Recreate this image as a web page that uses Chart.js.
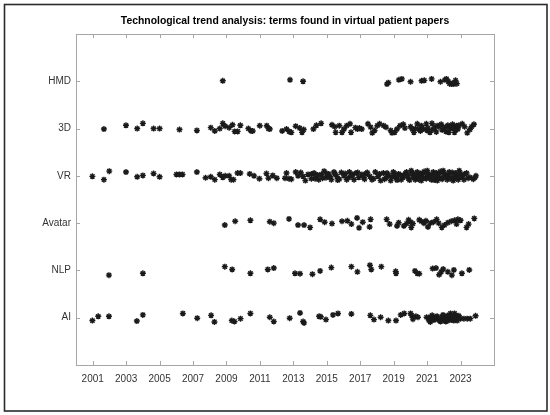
<!DOCTYPE html>
<html>
<head>
<meta charset="utf-8">
<script src="https://cdn.jsdelivr.net/npm/chart.js@4/dist/chart.umd.min.js"></script>
<style>
  html, body { margin: 0; padding: 0; background: #fff; }
  #wrap { width: 550px; height: 415px; }
</style>
</head>
<body>
<div id="wrap"><canvas id="trend" width="550" height="415"></canvas></div>
<script>
// category order bottom -> top
const categories = ['AI', 'NLP', 'Avatar', 'VR', '3D', 'HMD'];
const tickYears = [2001, 2003, 2005, 2007, 2009, 2011, 2013, 2015, 2017, 2019, 2021, 2023];
const chartTitle = 'Technological trend analysis: terms found in virtual patient papers';

// [year, vertical jitter] per paper
const AI = [
  [2000.98, -0.06], [2001.33, 0.03], [2001.97, 0.03], [2003.64, -0.07], [2004.00, 0.06],
  [2006.39, 0.09], [2007.25, -0.01], [2008.08, 0.05], [2008.28, -0.09], [2009.32, -0.06],
  [2009.48, -0.08], [2009.84, -0.02], [2010.43, 0.09], [2011.59, 0.01], [2011.83, -0.08],
  [2012.78, -0.01], [2013.40, 0.10], [2013.58, -0.08], [2013.64, -0.11], [2014.54, 0.03],
  [2014.64, 0.02], [2014.95, -0.04], [2015.37, 0.06], [2015.67, 0.09], [2016.47, 0.08],
  [2017.60, 0.05], [2017.82, -0.04], [2018.22, 0.01], [2018.68, -0.06], [2019.14, -0.06],
  [2019.42, 0.06], [2019.63, 0.09], [2020.01, 0.09], [2020.07, 0.05], [2020.15, -0.03],
  [2020.33, 0.03], [2020.45, 0.01], [2020.97, 0.01], [2021.10, -0.05], [2021.19, -0.09],
  [2021.20, 0.02], [2021.29, -0.01], [2021.30, 0.05], [2021.41, -0.05], [2021.45, -0.02],
  [2021.53, 0.02], [2021.60, 0.03], [2021.69, -0.04], [2021.75, -0.06], [2021.80, -0.08],
  [2021.88, 0.02], [2021.95, 0.06], [2022.00, -0.02], [2022.05, -0.07], [2022.12, -0.08],
  [2022.15, 0.02], [2022.20, 0.04], [2022.25, -0.06], [2022.32, -0.01], [2022.35, 0.06],
  [2022.40, 0.09], [2022.45, -0.03], [2022.48, -0.05], [2022.56, 0.03], [2022.60, -0.06],
  [2022.64, 0.09], [2022.70, 0.05], [2022.72, -0.04], [2022.80, -0.06], [2022.84, 0.01],
  [2022.90, 0.04], [2023.00, -0.02], [2023.20, -0.02], [2023.40, -0.02], [2023.58, -0.02],
  [2023.90, 0.04]
];
const NLP = [
  [2001.97, -0.10], [2004.00, -0.06], [2008.90, 0.08], [2009.34, 0.02], [2010.43, -0.06],
  [2011.47, 0.02], [2011.83, 0.05], [2013.10, -0.06], [2013.40, -0.07], [2014.14, -0.08],
  [2014.60, -0.01], [2015.27, 0.06], [2016.47, 0.08], [2016.83, -0.03], [2017.58, 0.11],
  [2017.66, 0.02], [2018.26, 0.08], [2019.12, -0.02], [2019.14, -0.06], [2020.27, -0.01],
  [2020.41, -0.06], [2020.53, -0.07], [2021.33, 0.04], [2021.53, 0.05], [2021.72, -0.09],
  [2021.84, -0.03], [2021.96, 0.03], [2022.24, -0.03], [2022.48, -0.10], [2022.60, 0.01],
  [2023.08, -0.06], [2023.52, 0.01]
];
const Avatar = [
  [2008.90, -0.04], [2009.52, 0.04], [2010.43, 0.06], [2011.59, 0.03], [2011.83, 0.00],
  [2012.74, 0.09], [2013.28, -0.04], [2013.64, -0.04], [2014.00, -0.09], [2014.60, 0.08],
  [2014.87, 0.02], [2015.31, -0.01], [2015.91, 0.04], [2016.23, 0.05], [2016.47, -0.02],
  [2016.81, 0.11], [2016.93, -0.10], [2017.15, 0.02], [2017.56, -0.08], [2017.62, 0.08],
  [2018.58, 0.08], [2018.76, -0.02], [2019.20, -0.06], [2019.30, 0.01], [2019.61, -0.06],
  [2019.77, -0.01], [2019.89, 0.07], [2020.01, 0.02], [2020.05, -0.09], [2020.15, -0.01],
  [2020.53, 0.07], [2020.65, 0.04], [2020.81, 0.00], [2020.93, 0.05], [2021.05, -0.08],
  [2021.19, 0.00], [2021.37, 0.02], [2021.57, 0.08], [2021.69, 0.00], [2021.88, -0.09],
  [2022.04, -0.04], [2022.24, 0.01], [2022.44, 0.04], [2022.64, 0.06], [2022.76, -0.02],
  [2022.84, 0.08], [2023.00, 0.06], [2023.36, -0.09], [2023.48, -0.02], [2023.82, 0.10]
];
const VR = [
  [2000.98, -0.01], [2001.67, -0.08], [2001.99, 0.10], [2002.99, 0.08], [2003.66, -0.02],
  [2004.00, 0.01], [2004.64, 0.05], [2005.00, -0.02], [2006.01, 0.03], [2006.19, 0.03],
  [2006.37, 0.03], [2007.23, 0.08], [2007.75, -0.04], [2008.06, -0.02], [2008.30, -0.08],
  [2008.60, 0.03], [2008.78, -0.03], [2008.92, 0.00], [2009.16, 0.00], [2009.28, -0.08],
  [2009.42, -0.08], [2009.66, 0.06], [2009.83, 0.06], [2010.39, 0.04], [2010.65, 0.00],
  [2010.97, -0.06], [2011.39, 0.05], [2011.51, -0.05], [2011.77, 0.01], [2012.01, -0.05],
  [2012.50, -0.05], [2012.59, 0.06], [2012.74, -0.06], [2012.88, -0.07], [2013.14, 0.08],
  [2013.28, 0.00], [2013.44, 0.07], [2013.58, -0.01], [2013.72, -0.10], [2013.88, 0.03],
  [2014.08, -0.06], [2014.10, 0.04], [2014.24, 0.06], [2014.30, -0.06], [2014.38, -0.03],
  [2014.45, 0.02], [2014.52, -0.08], [2014.68, 0.03], [2014.75, -0.05], [2014.84, 0.10],
  [2014.95, -0.04], [2015.00, 0.05], [2015.11, 0.04], [2015.20, -0.02], [2015.27, -0.08],
  [2015.43, 0.08], [2015.50, 0.04], [2015.59, -0.01], [2015.65, -0.09], [2015.75, -0.07],
  [2015.87, 0.07], [2016.03, 0.00], [2016.10, 0.05], [2016.19, -0.08], [2016.30, -0.04],
  [2016.35, 0.08], [2016.47, 0.00], [2016.55, 0.03], [2016.63, -0.08], [2016.75, 0.06],
  [2016.85, 0.07], [2016.91, -0.03], [2017.10, 0.03], [2017.20, -0.03], [2017.26, -0.07],
  [2017.35, 0.05], [2017.42, 0.07], [2017.58, -0.01], [2017.70, -0.08], [2017.80, -0.06],
  [2017.90, 0.08], [2018.06, -0.01], [2018.15, 0.04], [2018.22, -0.10], [2018.38, 0.06],
  [2018.45, -0.07], [2018.54, -0.04], [2018.60, 0.06], [2018.70, 0.01], [2018.82, -0.10],
  [2018.90, -0.02], [2018.98, 0.08], [2019.05, 0.05], [2019.14, -0.04], [2019.20, -0.09],
  [2019.30, 0.04], [2019.40, 0.02], [2019.45, -0.08], [2019.55, -0.04], [2019.61, 0.01],
  [2019.70, 0.05], [2019.77, 0.08], [2019.85, 0.01], [2019.89, -0.06], [2019.95, -0.09],
  [2020.05, 0.11], [2020.10, 0.07], [2020.17, 0.01], [2020.20, -0.03], [2020.29, -0.08],
  [2020.35, 0.03], [2020.41, 0.08], [2020.48, -0.07], [2020.53, -0.03], [2020.60, 0.05],
  [2020.65, -0.10], [2020.70, -0.02], [2020.77, 0.06], [2020.82, 0.09], [2020.89, -0.04],
  [2020.95, -0.06], [2021.01, 0.11], [2021.05, 0.04], [2021.13, 0.00], [2021.18, -0.05],
  [2021.25, -0.08], [2021.30, 0.02], [2021.37, 0.08], [2021.42, -0.09], [2021.49, -0.03],
  [2021.55, 0.06], [2021.61, -0.10], [2021.66, -0.01], [2021.73, 0.06], [2021.78, 0.09],
  [2021.84, -0.04], [2021.90, -0.07], [2021.96, 0.11], [2022.02, 0.05], [2022.08, 0.01],
  [2022.14, -0.03], [2022.20, -0.08], [2022.26, 0.02], [2022.32, 0.08], [2022.38, -0.06],
  [2022.44, -0.03], [2022.50, 0.07], [2022.56, -0.10], [2022.62, -0.04], [2022.68, 0.06],
  [2022.74, 0.01], [2022.80, -0.04], [2022.86, -0.08], [2022.92, 0.11], [2022.98, 0.05],
  [2023.04, 0.00], [2023.10, -0.02], [2023.20, -0.08], [2023.25, 0.04], [2023.36, 0.06],
  [2023.45, -0.05], [2023.56, -0.03], [2023.76, -0.07], [2023.85, -0.04], [2023.92, 0.00]
];
const D3 = [
  [2001.67, -0.01], [2002.99, 0.07], [2003.66, 0.00], [2004.00, 0.11], [2004.64, 0.00],
  [2005.00, 0.00], [2006.19, -0.02], [2007.23, -0.04], [2008.06, 0.02], [2008.30, -0.05],
  [2008.60, 0.00], [2008.78, 0.11], [2008.92, 0.05], [2009.16, 0.02], [2009.36, 0.08],
  [2009.49, -0.06], [2009.67, -0.06], [2009.83, 0.07], [2010.31, 0.00], [2010.47, -0.05],
  [2010.57, -0.05], [2010.99, 0.06], [2011.41, 0.06], [2011.51, 0.00], [2011.59, -0.01],
  [2012.33, -0.05], [2012.59, -0.01], [2012.74, -0.06], [2012.88, -0.08], [2013.14, 0.05],
  [2013.38, 0.01], [2013.52, -0.08], [2013.62, -0.02], [2014.20, -0.01], [2014.38, 0.07],
  [2014.66, 0.11], [2015.31, 0.08], [2015.47, 0.04], [2015.53, -0.08], [2015.75, 0.06],
  [2015.91, -0.08], [2016.03, -0.01], [2016.19, 0.06], [2016.39, 0.10], [2016.45, -0.08],
  [2016.71, 0.02], [2016.83, -0.01], [2016.95, 0.01], [2017.09, -0.01], [2017.46, 0.10],
  [2017.62, 0.03], [2017.72, -0.09], [2017.86, -0.04], [2018.02, 0.06], [2018.16, 0.10],
  [2018.40, 0.06], [2018.54, 0.03], [2018.82, -0.04], [2018.90, -0.09], [2019.06, -0.08],
  [2019.20, -0.01], [2019.38, 0.06], [2019.57, 0.09], [2019.67, 0.01], [2020.01, 0.04],
  [2020.11, -0.01], [2020.21, -0.08], [2020.30, 0.00], [2020.41, 0.10], [2020.51, -0.01],
  [2020.60, -0.05], [2020.65, 0.06], [2020.79, -0.01], [2020.95, 0.10], [2021.00, -0.04],
  [2021.05, 0.01], [2021.17, -0.08], [2021.29, 0.11], [2021.35, -0.02], [2021.43, 0.03],
  [2021.55, -0.07], [2021.60, 0.06], [2021.70, 0.04], [2021.84, 0.09], [2021.90, -0.03],
  [2022.00, 0.01], [2022.10, 0.03], [2022.12, -0.06], [2022.24, 0.07], [2022.30, -0.08],
  [2022.38, 0.00], [2022.45, 0.05], [2022.52, 0.09], [2022.60, 0.00], [2022.64, -0.08],
  [2022.70, -0.03], [2022.76, 0.06], [2022.84, -0.01], [2022.90, 0.07], [2023.10, 0.10],
  [2023.24, 0.04], [2023.40, -0.09], [2023.56, -0.02], [2023.66, 0.04], [2023.80, 0.09]
];
const HMD = [
  [2008.78, 0.01], [2012.80, 0.03], [2013.58, 0.00], [2018.60, -0.06], [2018.68, -0.03],
  [2019.31, 0.03], [2019.49, 0.05], [2020.01, -0.01], [2020.67, 0.01], [2020.83, 0.02],
  [2021.27, 0.05], [2021.80, -0.01], [2022.06, 0.03], [2022.16, 0.05], [2022.26, 0.00],
  [2022.34, -0.05], [2022.45, -0.06], [2022.54, -0.04], [2022.60, -0.06], [2022.70, 0.02],
  [2022.78, -0.05]
];

const rows = [AI, NLP, Avatar, VR, D3, HMD];

const datasets = rows.map((pts, i) => ({
  label: categories[i],
  data: pts.map(p => ({ x: p[0], y: i + 1 + p[1] })),
  pointStyle: 'star',
  pointRadius: 3,
  borderColor: '#1a1a1a',
  backgroundColor: '#1a1a1a',
  borderWidth: 1.4
}));

// white page, outer frame, axis box with inward ticks, title over the plot box
const frame = {
  id: 'frame',
  beforeDraw(chart) {
    const ctx = chart.ctx;
    ctx.save();
    ctx.fillStyle = '#fff';
    ctx.fillRect(0, 0, chart.width, chart.height);
    ctx.strokeStyle = '#2b2b2b';
    ctx.lineWidth = 1.6;
    ctx.strokeRect(4.5, 4.5, 542.5, 406.5);
    ctx.restore();
  },
  beforeDatasetsDraw(chart) {
    const { ctx, chartArea: a, scales } = chart;
    ctx.save();
    ctx.strokeStyle = '#a6a6a6';
    ctx.lineWidth = 1;
    ctx.strokeRect(Math.round(a.left) + 0.5, Math.round(a.top) + 0.5,
      Math.round(a.right - a.left), Math.round(a.bottom - a.top));
    ctx.beginPath();
    tickYears.forEach(yr => {
      const x = Math.round(scales.x.getPixelForValue(yr)) + 0.5;
      ctx.moveTo(x, a.bottom); ctx.lineTo(x, a.bottom - 4);
      ctx.moveTo(x, a.top); ctx.lineTo(x, a.top + 4);
    });
    categories.forEach((c, i) => {
      const y = Math.round(scales.y.getPixelForValue(i + 1)) + 0.5;
      ctx.moveTo(a.left, y); ctx.lineTo(a.left + 4, y);
      ctx.moveTo(a.right, y); ctx.lineTo(a.right - 4, y);
    });
    ctx.stroke();

    ctx.fillStyle = '#000';
    ctx.font = 'bold 10.4px "Liberation Sans", Arial, sans-serif';
    ctx.textAlign = 'center';
    ctx.textBaseline = 'middle';
    ctx.fillText(chartTitle, (a.left + a.right) / 2, 21);
    ctx.restore();
  }
};

new Chart(document.getElementById('trend'), {
  type: 'scatter',
  data: { datasets },
  plugins: [frame],
  options: {
    responsive: false,
    animation: false,
    layout: { padding: { top: 34, right: 56, bottom: 0, left: 0 } },
    plugins: {
      legend: { display: false },
      tooltip: { enabled: false },
      title: { display: false }
    },
    scales: {
      x: {
        type: 'linear',
        min: 2000,
        max: 2025,
        grid: { display: false, drawTicks: false },
        border: { display: false },
        afterBuildTicks: s => { s.ticks = tickYears.map(v => ({ value: v })); },
        afterFit: s => { s.height = 50; },
        ticks: {
          autoSkip: false,
          maxRotation: 0,
          padding: 8,
          color: '#333',
          font: { family: '"Liberation Sans", Arial, sans-serif', size: 10 },
          callback: v => String(v)
        }
      },
      y: {
        min: 0,
        max: 7,
        grid: { display: false, drawTicks: false },
        border: { display: false },
        afterBuildTicks: s => { s.ticks = categories.map((c, i) => ({ value: i + 1 })); },
        afterFit: s => { s.width = 76; },
        ticks: {
          padding: 5,
          color: '#333',
          font: { family: '"Liberation Sans", Arial, sans-serif', size: 10 },
          callback: v => categories[v - 1]
        }
      }
    }
  }
});
</script>
</body>
</html>
